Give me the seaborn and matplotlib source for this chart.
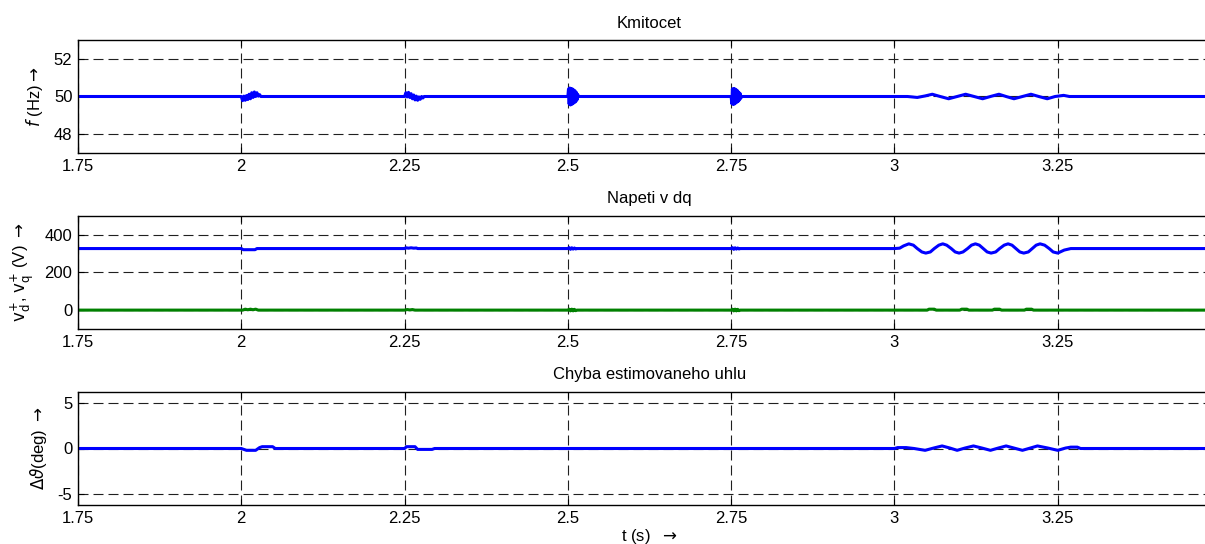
import matplotlib
matplotlib.use('Agg')
import matplotlib.pyplot as plt
import seaborn as sns

# ---------------- data ----------------
x_ticks = [1.75, 2.0, 2.25, 2.5, 2.75, 3.0, 3.25]
x_tick_labels = ['1.75', '2', '2.25', '2.5', '2.75', '3', '3.25']
f_ticks = [48, 50, 52]
v_ticks = [0, 200, 400]
a_ticks = [-5, 0, 5]

titles = ['Kmitocet', 'Napeti v dq', 'Chyba estimovaneho uhlu']

t_freq = [1.75,
          2.000, 2.002, 2.004, 2.006, 2.008, 2.010, 2.012, 2.014, 2.016, 2.018, 2.020, 2.022, 2.024, 2.026, 2.028, 2.030,
          2.250, 2.252, 2.254, 2.256, 2.258, 2.260, 2.262, 2.264, 2.266, 2.268, 2.270, 2.272, 2.274, 2.276, 2.278, 2.280,
          2.500, 2.501, 2.502, 2.503, 2.504, 2.505, 2.506, 2.507, 2.508, 2.509, 2.510, 2.511, 2.512, 2.513, 2.514, 2.515, 2.516,
          2.750, 2.751, 2.752, 2.753, 2.754, 2.755, 2.756, 2.757, 2.758, 2.759, 2.760, 2.761, 2.762, 2.763, 2.764, 2.765, 2.766,
          3.000, 3.020, 3.035, 3.047, 3.058, 3.070, 3.083, 3.096, 3.109, 3.122, 3.135, 3.147, 3.160, 3.171, 3.183, 3.196,
          3.209, 3.221, 3.234, 3.246, 3.259, 3.268,
          3.50]
freq = [50.00,
        50.00, 49.78, 50.02, 49.80, 50.05, 49.84, 50.12, 49.88, 50.20, 49.95, 50.24, 50.00, 50.20, 50.02, 50.10, 50.00,
        50.00, 50.20, 49.98, 50.22, 49.95, 50.15, 49.88, 50.08, 49.82, 50.02, 49.80, 49.98, 49.85, 50.00, 49.92, 50.00,
        50.00, 50.40, 49.60, 50.45, 49.55, 50.42, 49.58, 50.40, 49.62, 50.35, 49.68, 50.30, 49.72, 50.22, 49.82, 50.12, 50.00,
        50.00, 49.62, 50.40, 49.58, 50.42, 49.60, 50.40, 49.65, 50.35, 49.70, 50.30, 49.75, 50.22, 49.82, 50.15, 49.92, 50.00,
        50.00, 50.00, 49.95, 50.03, 50.12, 50.00, 49.88, 50.00, 50.12, 50.00, 49.88, 50.00, 50.12, 50.00, 49.88, 50.00,
        50.12, 50.00, 49.88, 50.00, 50.06, 50.00,
        50.00]

t_vd = [1.75, 2.000, 2.003, 2.021, 2.024, 2.250, 2.252, 2.256, 2.260, 2.264, 2.268, 2.270,
        2.500, 2.502, 2.504, 2.506, 2.508, 2.510, 2.512, 2.514,
        2.750, 2.752, 2.754, 2.756, 2.758, 2.760, 2.762, 2.764,
        3.000, 3.008, 3.014, 3.022, 3.029, 3.035, 3.042, 3.048, 3.055, 3.061, 3.068, 3.074, 3.080,
        3.087, 3.093, 3.099, 3.105, 3.112, 3.118, 3.124, 3.130, 3.136, 3.142, 3.148, 3.155, 3.161,
        3.168, 3.174, 3.180, 3.186, 3.192, 3.198, 3.205, 3.211, 3.217, 3.223, 3.230, 3.237, 3.243,
        3.250, 3.255, 3.260, 3.270, 3.50]
vd = [326, 326, 320, 320, 326, 326, 330, 328, 330, 328, 329, 326,
      326, 331, 322, 330, 323, 329, 324, 326,
      326, 331, 322, 330, 323, 329, 324, 326,
      326, 328, 340, 351, 344, 326, 308, 302, 308, 326, 344, 351, 344,
      326, 308, 302, 308, 326, 344, 351, 344, 326, 308, 302, 308, 326,
      344, 351, 344, 326, 308, 302, 308, 326, 344, 351, 344, 326, 308,
      302, 310, 318, 326, 326]

t_vq = [1.75, 2.002, 2.006, 2.010, 2.014, 2.018, 2.022, 2.026, 2.250, 2.254, 2.258, 2.262, 2.266,
        2.500, 2.502, 2.504, 2.506, 2.508, 2.510, 2.512, 2.514,
        2.750, 2.752, 2.754, 2.756, 2.758, 2.760, 2.762, 2.764,
        3.000, 3.050, 3.053, 3.061, 3.064, 3.100, 3.103, 3.111, 3.114, 3.150, 3.153, 3.161, 3.164,
        3.199, 3.202, 3.210, 3.213, 3.50]
vq = [0, 0, 5, 2, 5, 2, 5, 0, 0, 3, 1, 3, 0,
      0, 5, -4, 5, -4, 4, -3, 0,
      0, 5, -4, 5, -4, 4, -3, 0,
      0, 0, 5, 5, 0, 0, 5, 5, 0, 0, 5, 5, 0,
      0, 5, 5, 0, 0]

t_ang = [1.75, 2.000, 2.004, 2.008, 2.022, 2.028, 2.032, 2.048, 2.052,
         2.250, 2.253, 2.266, 2.270, 2.292, 2.296,
         3.000, 3.005, 3.018, 3.030, 3.047, 3.060, 3.073, 3.085, 3.096, 3.108, 3.121, 3.134, 3.147,
         3.159, 3.171, 3.183, 3.196, 3.208, 3.219, 3.235, 3.250, 3.262, 3.270, 3.280, 3.285, 3.50]
ang = [0, 0, -0.1, -0.2, -0.2, 0.1, 0.2, 0.2, 0.0,
       0, 0.2, 0.2, -0.1, -0.1, 0,
       0, 0.1, 0.1, 0.0, -0.2, 0.05, 0.28, 0.05, -0.2, 0.05, 0.28, 0.05, -0.2,
       0.05, 0.28, 0.05, -0.2, 0.05, 0.28, 0.05, -0.2, 0.05, 0.15, 0.15, 0.0, 0.0]

# ---------------- style ----------------
sns.set_theme(style='white')
plt.rcParams['font.family'] = ['Liberation Sans', 'DejaVu Sans']
plt.rcParams['mathtext.fontset'] = 'dejavusans'
plt.rcParams['axes.unicode_minus'] = False

FS = 12
BLUE = '#0000FF'
GREEN = '#008000'

fig = plt.figure(figsize=(12.05, 5.44), dpi=100)
W, H = 1205.0, 544.0
left_px = 78
width_px = 1143  # xlim 1.75..3.5 (right part cropped by figure edge)
boxes = [(40, 153), (215.7, 329), (392, 505)]
axes = []
for top, bot in boxes:
    ax = fig.add_axes([left_px / W, (H - bot) / H, width_px / W, (bot - top) / H])
    axes.append(ax)


def style(ax, yticks, ylim, title, ylabel):
    ax.set_xlim(1.75, 3.5)
    ax.set_ylim(*ylim)
    ax.set_xticks(x_ticks)
    ax.set_xticklabels(x_tick_labels)
    ax.set_yticks(yticks)
    ax.set_yticklabels([str(v) for v in yticks])
    ax.grid(True, color='#202020', linestyle=(0, (9, 4.5)), linewidth=0.8)
    ax.set_axisbelow(True)
    ax.tick_params(direction='in', length=4, width=0.8, colors='black',
                   labelsize=FS, pad=4, top=True, right=True, left=True, bottom=True)
    for s in ax.spines.values():
        s.set_color('black')
        s.set_linewidth(1.0)
    ax.set_title(title, fontsize=FS, pad=9, color='black')
    ax.set_ylabel(ylabel, fontsize=FS, labelpad=6, color='black')
    ax.set_xlabel('')
    ax.set_facecolor('white')


lw = 2.2
sns.lineplot(x=t_freq, y=freq, ax=axes[0], color=BLUE, linewidth=lw, estimator=None, sort=False)
sns.lineplot(x=t_vd, y=vd, ax=axes[1], color=BLUE, linewidth=lw, estimator=None, sort=False)
sns.lineplot(x=t_vq, y=vq, ax=axes[1], color=GREEN, linewidth=lw, estimator=None, sort=False)
sns.lineplot(x=t_ang, y=ang, ax=axes[2], color=BLUE, linewidth=lw, estimator=None, sort=False)

style(axes[0], f_ticks, (47, 53), titles[0], r'$f$ (Hz)$\rightarrow$')
style(axes[1], v_ticks, (-100, 500), titles[1],
      r'$\mathrm{v}_\mathrm{d}^{+}$, $\mathrm{v}_\mathrm{q}^{+}$ (V) $\rightarrow$')
style(axes[2], a_ticks, (-6.2, 6.2), titles[2], r'$\mathit{\Delta\vartheta}$(deg) $\rightarrow$')
axes[2].set_xlabel(r't (s)  $\rightarrow$', fontsize=FS, labelpad=1, color='black')

fig.savefig('out.png', dpi=100, facecolor='white')
